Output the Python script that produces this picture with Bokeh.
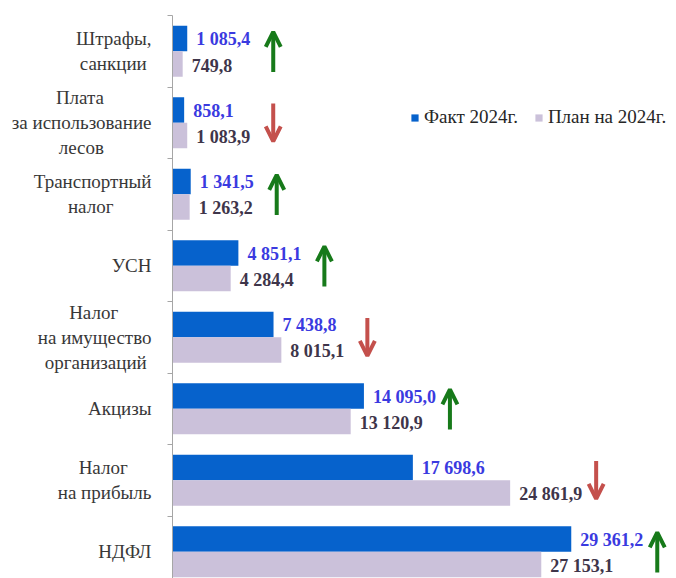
from bokeh.plotting import figure
from bokeh.models import (ColumnDataSource, Range1d, FixedTicker, Arrow, OpenHead,
                          Legend, LegendItem)
from bokeh.core.properties import value
from bokeh.embed import file_html
from bokeh.resources import INLINE

categories = ["Штрафы,\nсанкции", "Плата\nза использование\nлесов", "Транспортный\nналог",
              "УСН", "Налог\nна имущество\nорганизаций", "Акцизы", "Налог\nна прибыль", "НДФЛ"]
fact_2024 = [1085.4, 858.1, 1341.5, 4851.1, 7438.8, 14095.0, 17698.6, 29361.2]
plan_2024 = [749.8, 1083.9, 1263.2, 4284.4, 8015.1, 13120.9, 24861.9, 27153.1]
series_names = ["Факт 2024г.", "План на 2024г."]

FACT_COLOR = "#0662cc"
PLAN_COLOR = "#cbc1da"
SERIF = "Times New Roman"
SERIF_BOLD = "Liberation Serif"

W, H = 676, 578
BL, BT = 172, 15
X_END = 37110
frame_w = W - BL
units_per_px = X_END / frame_w
slot_px = 71.5
y_start = -0.5 + (H - BT) / slot_px

# approximate Times-like glyph widths (em) to centre-justify multi-line labels
_cw = {"Ш": .93, "П": .72, "Т": .61, "У": .70, "С": .67, "Н": .72, "А": .72, "Д": .68, "Ф": .77, "Л": .68,
       "а": .444, "б": .5, "в": .47, "г": .41, "д": .5, "е": .444, "ж": .69, "з": .39, "и": .535,
       "й": .535, "к": .48, "л": .5, "м": .63, "н": .535, "о": .5, "п": .535, "р": .5, "с": .444,
       "т": .45, "у": .5, "ф": .65, "х": .5, "ц": .535, "ч": .5, "ш": .78, "щ": .78, "ы": .7,
       "ь": .47, "э": .44, "ю": .73, "я": .5, " ": .25, ",": .25}


def _w(s):
    return sum(_cw.get(ch, .5) for ch in s)


def centre_lines(label):
    lines = label.split("\n")
    if len(lines) == 1:
        return label
    wmax = max(_w(l) for l in lines)
    out = []
    for l in lines:
        pad = int(round((wmax - _w(l)) / 2 / 0.25))
        out.append(l + "\u00a0" * pad)
    return "\n".join(out)


def fmt(v):
    return f"{v:,.1f}".replace(",", " ").replace(".", ",")


n = len(categories)
idx = list(range(n))
bar_h = 0.357
src = ColumnDataSource(dict(
    y=idx,
    yf=[i - bar_h / 2 for i in idx],
    yp=[i + bar_h / 2 for i in idx],
    fact=fact_2024,
    plan=plan_2024,
    fl=[fmt(v) for v in fact_2024],
    pl=[fmt(v) for v in plan_2024],
))

p = figure(width=W, height=H, x_range=Range1d(0, X_END), y_range=Range1d(y_start, -0.5),
           output_backend="svg", toolbar_location=None, x_axis_location=None,
           min_border_left=BL, min_border_right=0, min_border_top=BT, min_border_bottom=0)
p.outline_line_color = None
p.xgrid.visible = False
p.ygrid.visible = False

rf = p.hbar(y="yf", height=bar_h, left=0, right="fact", source=src,
            fill_color=FACT_COLOR, line_color=None)
rp = p.hbar(y="yp", height=bar_h, left=0, right="plan", source=src,
            fill_color=PLAN_COLOR, line_color=None)

p.text(x="fact", y="yf", text="fl", source=src, x_offset=9, y_offset=1,
       text_baseline="middle", text_align="left", text_font=value(SERIF_BOLD),
       text_font_style="bold", text_font_size="18px", text_color="#3a3ae0")
p.text(x="plan", y="yp", text="pl", source=src, x_offset=9, y_offset=1,
       text_baseline="middle", text_align="left", text_font=value(SERIF_BOLD),
       text_font_style="bold", text_font_size="18px", text_color="#3e354a")

ax = p.yaxis[0]
ax.ticker = FixedTicker(ticks=idx, minor_ticks=[i - 0.5 for i in range(n + 1)])
ax.major_label_overrides = {i: centre_lines(c) for i, c in zip(idx, categories)}
ax.major_tick_out = 0
ax.major_tick_in = 0
ax.minor_tick_out = 5
ax.minor_tick_in = 0
ax.minor_tick_line_color = "#a6a6a6"
ax.axis_line_color = "#a6a6a6"
ax.major_label_standoff = 16
ax.major_label_text_font = SERIF
ax.major_label_text_font_size = "19px"
ax.major_label_text_color = "#383838"

# arrows: direction from data, placed after the longer label
gap_units = 86 * units_per_px
up = dict(x=[], y0=[], y1=[])
down = dict(x=[], y0=[], y1=[])
for i, (f, pl) in enumerate(zip(fact_2024, plan_2024)):
    xa = max(f, pl) + gap_units
    if f >= pl:
        up["x"].append(xa); up["y0"].append(i + 0.29); up["y1"].append(i - 0.27)
    else:
        down["x"].append(xa); down["y0"].append(i - 0.27); down["y1"].append(i + 0.26)

for d, col in ((up, "#177a1a"), (down, "#c4504c")):
    s = ColumnDataSource(d)
    p.add_layout(Arrow(source=s, x_start="x", y_start="y0", x_end="x", y_end="y1",
                       line_color=col, line_width=4,
                       end=OpenHead(size=15, line_color=col, line_width=4)))

legend = Legend(items=[LegendItem(label=series_names[0], renderers=[rf]),
                       LegendItem(label=series_names[1], renderers=[rp])],
                orientation="horizontal", location=(238, 450),
                glyph_width=9, glyph_height=9, label_standoff=5, spacing=16,
                padding=0, margin=0, border_line_color=None, background_fill_alpha=0,
                label_text_font=SERIF, label_text_font_size="19px",
                label_text_color="#262626")
p.add_layout(legend)

open("out.html", "w").write(file_html(p, INLINE))
